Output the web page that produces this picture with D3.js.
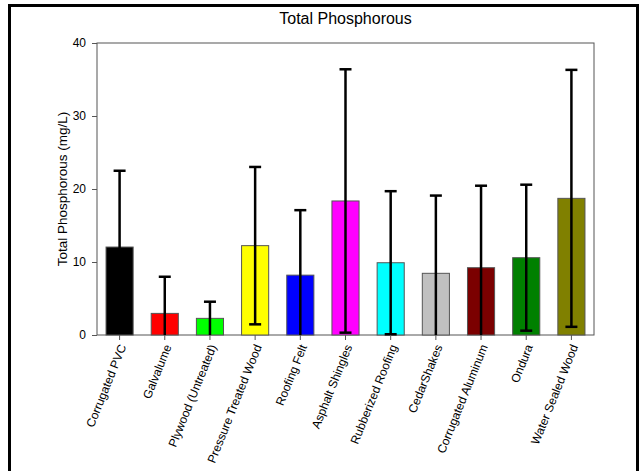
<!DOCTYPE html>
<html>
<head>
<meta charset="utf-8">
<script src="https://cdn.jsdelivr.net/npm/d3@7"></script>
<style>
  body { margin: 0; background: #fff; }
  text { font-family: "Liberation Sans", Arial, sans-serif; }
</style>
</head>
<body>
<script>
const categories = ["Corrugated PVC", "Galvalume", "Plywood (Untreated)", "Pressure Treated Wood",
    "Roofing Felt", "Asphalt Shingles", "Rubberized Roofing", "CedarShakes",
    "Corrugated Aluminum", "Ondura", "Water Sealed Wood"];
const means  = [12.05, 2.96, 2.28, 12.24, 8.2, 18.36, 9.9, 8.45, 9.22, 10.59, 18.72];
const errors = [10.45, 5.02, 2.28, 10.78, 8.9, 18.04, 9.8, 10.65, 11.23, 10.0, 17.6];
const colors = ["#000000", "#ff0000", "#00ff00", "#ffff00", "#0000ff", "#ff00ff",
    "#00ffff", "#c0c0c0", "#7b0000", "#008000", "#808000"];
const yTicks = [0, 10, 20, 30, 40];

const rows = categories.map((c, i) => ({name: c, mean: means[i], err: errors[i], color: colors[i]}));

const width = 639, height = 471;
const margin = {top: 43, right: 45, bottom: 136, left: 97};

const svg = d3.select("body")
    .append("svg")
    .attr("width", width)
    .attr("height", height);

// outer frame (no bottom edge visible)
svg.append("path")
    .attr("d", `M9.5,${height} V5.5 H637.5 V${height}`)
    .style("fill", "none")
    .style("stroke", "#000")
    .style("stroke-width", 3);

const x = d3.scaleBand()
    .domain(categories)
    .range([margin.left, width - margin.right])
    .paddingInner(0.4)
    .paddingOuter(0.2);

const y = d3.scaleLinear()
    .domain([0, 40])
    .range([height - margin.bottom, margin.top]);

const cx = d => x(d.name) + x.bandwidth() / 2;

// plot box
svg.append("rect")
    .attr("x", margin.left)
    .attr("y", margin.top)
    .attr("width", width - margin.right - margin.left)
    .attr("height", y(0) - margin.top)
    .style("fill", "none")
    .style("stroke", "#555")
    .style("stroke-width", 1);

// bars
svg.selectAll("rect.bar")
    .data(rows)
  .enter().append("rect")
    .attr("class", "bar")
    .attr("x", d => x(d.name))
    .attr("width", x.bandwidth())
    .attr("y", d => y(d.mean))
    .attr("height", d => y(0) - y(d.mean))
    .style("fill", d => d.color)
    .style("stroke", "#555")
    .style("stroke-width", 1);

// error bars, clipped at zero
const capW = 12;
const err = svg.selectAll("g.err")
    .data(rows)
  .enter().append("g")
    .attr("class", "err")
    .style("stroke", "#000")
    .style("stroke-width", 2.5);

err.append("line")
    .attr("x1", cx)
    .attr("x2", cx)
    .attr("y1", d => y(d.mean + d.err))
    .attr("y2", d => y(Math.max(0, d.mean - d.err)));

err.append("line")
    .attr("x1", d => cx(d) - capW / 2)
    .attr("x2", d => cx(d) + capW / 2)
    .attr("y1", d => y(d.mean + d.err))
    .attr("y2", d => y(d.mean + d.err));

err.filter(d => d.mean - d.err > 0)
  .append("line")
    .attr("x1", d => cx(d) - capW / 2)
    .attr("x2", d => cx(d) + capW / 2)
    .attr("y1", d => y(d.mean - d.err))
    .attr("y2", d => y(d.mean - d.err));

// y axis
const yAxis = svg.append("g")
    .attr("transform", `translate(${margin.left},0)`)
    .call(d3.axisLeft(y).tickValues(yTicks).tickSize(5).tickPadding(6));
yAxis.select(".domain").remove();
yAxis.selectAll("line").style("stroke", "#555");
yAxis.selectAll("text").style("font-size", "12px").style("fill", "#000");

// x axis
const xAxis = svg.append("g")
    .attr("transform", `translate(0,${y(0)})`)
    .call(d3.axisBottom(x).tickSize(5));
xAxis.select(".domain").remove();
xAxis.selectAll("line").style("stroke", "#555");
xAxis.selectAll("text")
    .style("font-size", "12px")
    .style("fill", "#000")
    .attr("text-anchor", "end")
    .attr("transform", "translate(3,10) rotate(-68)")
    .attr("x", 0)
    .attr("y", 0)
    .attr("dy", "0.35em");

// titles
svg.append("text")
    .attr("x", (margin.left + width - margin.right) / 2)
    .attr("y", 24)
    .attr("text-anchor", "middle")
    .style("font-size", "16px")
    .text("Total Phosphorous");

svg.append("text")
    .attr("transform", `translate(67,${(margin.top + y(0)) / 2}) rotate(-90)`)
    .attr("text-anchor", "middle")
    .style("font-size", "13.5px")
    .text("Total Phosphorous (mg/L)");
</script>
</body>
</html>
